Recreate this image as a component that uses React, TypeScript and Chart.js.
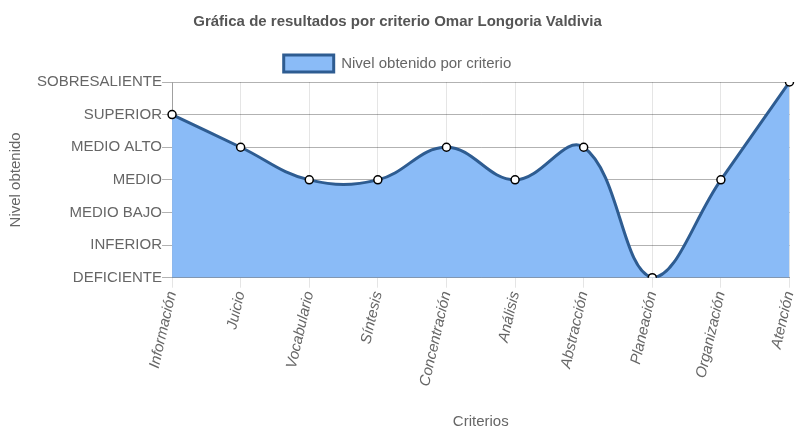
import React, { useEffect, useRef } from "react";
import { Chart, registerables } from "chart.js";

Chart.register(...registerables);

const categories = ["Información", "Juicio", "Vocabulario", "Síntesis", "Concentración", "Análisis", "Abstracción", "Planeación", "Organización", "Atención"];
const levelLabels = ["DEFICIENTE", "INFERIOR", "MEDIO BAJO", "MEDIO", "MEDIO ALTO", "SUPERIOR", "SOBRESALIENTE"];
const values = [5, 4, 3, 3, 4, 3, 4, 0, 3, 6];

const FONT = "'Liberation Sans', Arial, Helvetica, sans-serif";

export default function App() {
  const ref = useRef<HTMLCanvasElement | null>(null);
  useEffect(() => {
    if (!ref.current) return;
    const chart = new Chart(ref.current, {
      type: "line",
      data: {
        labels: categories,
        datasets: [
          {
            label: "Nivel obtenido por criterio",
            data: values,
            fill: true,
            backgroundColor: "rgb(138,187,247)",
            borderColor: "rgb(46,92,145)",
            borderWidth: 3,
            tension: 0.4,
            pointRadius: 4,
            pointBorderWidth: 1.5,
            pointBackgroundColor: "#ffffff",
            pointBorderColor: "#000000",
          },
        ],
      },
      options: {
        animation: false,
        responsive: false,
        layout: { padding: { left: 0, right: 0, top: 0, bottom: 0 } },
        plugins: {
          title: {
            display: true,
            text: "Gráfica de resultados por criterio Omar Longoria Valdivia",
            color: "#555",
            font: { family: FONT, size: 15, weight: "bold" },
            padding: { top: 13, bottom: 19 },
          },
          legend: {
            display: true,
            labels: {
              color: "#666",
              font: { family: FONT, size: 15 },
              boxWidth: 50,
              boxHeight: 17,
              padding: 5,
            },
          },
          tooltip: { enabled: false },
        },
        scales: {
          x: {
            offset: false,
            afterFit: (scale: any) => {
              scale.paddingRight = 5;
            },
            grid: { color: "rgba(0,0,0,0.1)", tickLength: 10, drawTicks: true },
            border: { color: "rgba(0,0,0,0.3)" },
            ticks: {
              color: "#666",
              font: { family: FONT, size: 15, style: "italic" },
              minRotation: 77,
              maxRotation: 77,
              autoSkip: false,
              padding: 2,
            },
            title: {
              display: true,
              text: "Criterios",
              color: "#666",
              font: { family: FONT, size: 15 },
              padding: { top: 23, bottom: 4 },
            },
          },
          y: {
            min: 0,
            max: 6,
            grid: { color: "rgba(0,0,0,0.3)", tickLength: 10, drawTicks: true },
            border: { color: "rgba(0,0,0,0.3)" },
            ticks: {
              stepSize: 1,
              color: "#666",
              font: { family: FONT, size: 15 },
              padding: 0,
              callback: (v: any) => levelLabels[Number(v)] ?? "",
            },
            title: {
              display: true,
              text: "Nivel obtenido",
              color: "#666",
              font: { family: FONT, size: 15 },
              padding: { top: 7, bottom: 12 },
            },
          },
        },
      },
    });
    return () => chart.destroy();
  }, []);
  return (
    <div style={{ position: "absolute", left: 0, top: 0, width: 795, height: 435, background: "#fff" }}>
      <canvas ref={ref} width={795} height={435} style={{ width: 795, height: 435, display: "block" }} />
    </div>
  );
}
